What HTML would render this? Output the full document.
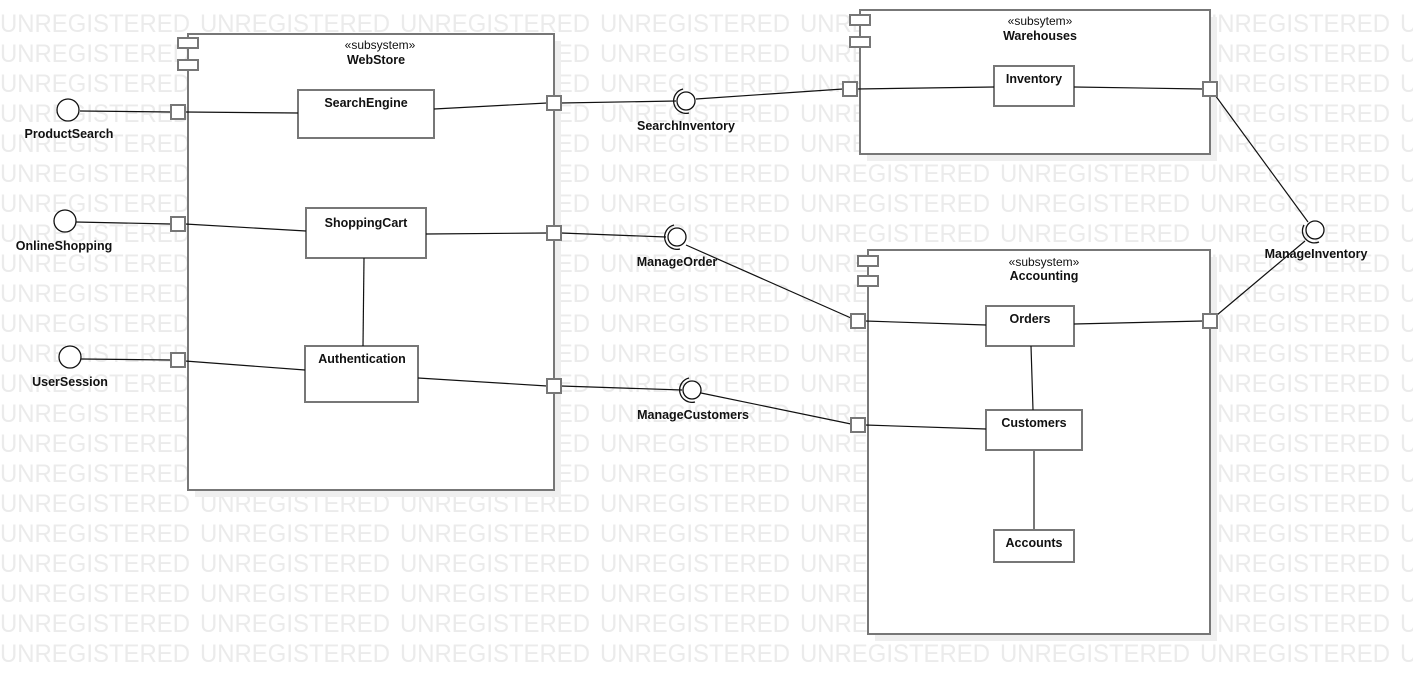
<!DOCTYPE html>
<html><head><meta charset="utf-8"><style>
html,body{margin:0;padding:0;background:#fff;}
svg{display:block;}
text{font-family:"Liberation Sans",Arial,sans-serif;}
</style></head><body>
<svg width="1413" height="674" viewBox="0 0 1413 674" xmlns="http://www.w3.org/2000/svg">
<g id="wm" fill="#ebebeb" font-size="25"></g>

<g fill="#efefef">
<rect x="195" y="41" width="366" height="456"/>
<rect x="867" y="17" width="350" height="144"/>
<rect x="875" y="257" width="342" height="384"/>
<rect x="305" y="97" width="136" height="48"/>
<rect x="313" y="215" width="120" height="50"/>
<rect x="312" y="353" width="113" height="56"/>
<rect x="1001" y="73" width="80" height="40"/>
<rect x="993" y="313" width="88" height="40"/>
<rect x="993" y="417" width="96" height="40"/>
<rect x="1001" y="537" width="80" height="32"/>
</g>

<g fill="#fff" stroke="#777" stroke-width="2">
<rect x="188" y="34" width="366" height="456"/>
<rect x="860" y="10" width="350" height="144"/>
<rect x="868" y="250" width="342" height="384"/>
<rect x="178" y="38" width="20" height="10"/>
<rect x="178" y="60" width="20" height="10"/>
<rect x="850" y="15" width="20" height="10"/>
<rect x="850" y="37" width="20" height="10"/>
<rect x="858" y="256" width="20" height="10"/>
<rect x="858" y="276" width="20" height="10"/>
<rect x="298" y="90" width="136" height="48"/>
<rect x="306" y="208" width="120" height="50"/>
<rect x="305" y="346" width="113" height="56"/>
<rect x="994" y="66" width="80" height="40"/>
<rect x="986" y="306" width="88" height="40"/>
<rect x="986" y="410" width="96" height="40"/>
<rect x="994" y="530" width="80" height="32"/>
</g>

<g stroke="#111" stroke-width="1.2" fill="none">
<line x1="80" y1="111" x2="171" y2="112"/>
<line x1="185" y1="112" x2="298" y2="113"/>
<line x1="434" y1="109" x2="547" y2="103"/>
<line x1="561" y1="103" x2="676" y2="101"/>
<line x1="696" y1="99" x2="843" y2="89"/>
<line x1="857" y1="89" x2="994" y2="87"/>
<line x1="1074" y1="87" x2="1203" y2="89"/>
<line x1="1215" y1="95" x2="1308" y2="222"/>
<line x1="76" y1="222" x2="171" y2="224"/>
<line x1="185" y1="224" x2="306" y2="231"/>
<line x1="426" y1="234" x2="547" y2="233"/>
<line x1="561" y1="233" x2="666" y2="237"/>
<line x1="686" y1="245" x2="851" y2="318"/>
<line x1="865" y1="321" x2="986" y2="325"/>
<line x1="1074" y1="324" x2="1203" y2="321"/>
<line x1="1217" y1="315" x2="1305" y2="241"/>
<line x1="364" y1="258" x2="363" y2="346"/>
<line x1="81" y1="359" x2="171" y2="360"/>
<line x1="185" y1="361" x2="305" y2="370"/>
<line x1="418" y1="378" x2="547" y2="386"/>
<line x1="561" y1="386" x2="682" y2="390"/>
<line x1="701" y1="393" x2="851" y2="424"/>
<line x1="865" y1="425" x2="986" y2="429"/>
<line x1="1031" y1="346" x2="1033" y2="410"/>
</g>
<line x1="1034" y1="450" x2="1034" y2="530" stroke="#777" stroke-width="2"/>

<g fill="#fff" stroke="#777" stroke-width="2">
<rect x="171" y="105" width="14" height="14"/>
<rect x="171" y="217" width="14" height="14"/>
<rect x="171" y="353" width="14" height="14"/>
<rect x="547" y="96" width="14" height="14"/>
<rect x="547" y="226" width="14" height="14"/>
<rect x="547" y="379" width="14" height="14"/>
<rect x="843" y="82" width="14" height="14"/>
<rect x="1203" y="82" width="14" height="14"/>
<rect x="851" y="314" width="14" height="14"/>
<rect x="851" y="418" width="14" height="14"/>
<rect x="1203" y="314" width="14" height="14"/>
</g>

<g fill="#fff" stroke="#111" stroke-width="1.3">
<circle cx="68" cy="110" r="11"/>
<circle cx="65" cy="221" r="11"/>
<circle cx="70" cy="357" r="11"/>
<circle cx="686" cy="101" r="9"/>
<circle cx="677" cy="237" r="9"/>
<circle cx="692" cy="390" r="9"/>
<circle cx="1315" cy="230" r="9"/>
</g>
<g fill="none" stroke="#111" stroke-width="1.3">
<path d="M683 89 A12 12 0 0 0 689 113"/>
<path d="M674 225 A12 12 0 0 0 680 249"/>
<path d="M689 378 A12 12 0 0 0 695 402"/>
<path d="M1304 225 A12 12 0 0 0 1319 242"/>
</g>

<g font-size="12.5" fill="#111" text-anchor="middle" font-weight="bold">
<text x="380" y="49" font-size="12" font-weight="normal">«subsystem»</text>
<text x="376" y="64">WebStore</text>
<text x="1040" y="25" font-size="12" font-weight="normal">«subsytem»</text>
<text x="1040" y="40">Warehouses</text>
<text x="1044" y="266" font-size="12" font-weight="normal">«subsystem»</text>
<text x="1044" y="280">Accounting</text>
<text x="366" y="107">SearchEngine</text>
<text x="366" y="227">ShoppingCart</text>
<text x="362" y="363">Authentication</text>
<text x="1034" y="83">Inventory</text>
<text x="1030" y="323">Orders</text>
<text x="1034" y="427">Customers</text>
<text x="1034" y="547">Accounts</text>
<text x="69" y="138">ProductSearch</text>
<text x="64" y="250">OnlineShopping</text>
<text x="70" y="386">UserSession</text>
<text x="686" y="130">SearchInventory</text>
<text x="677" y="266">ManageOrder</text>
<text x="693" y="419">ManageCustomers</text>
<text x="1316" y="258">ManageInventory</text>
</g>
</svg>
<script>
(function(){
var ns='http://www.w3.org/2000/svg';
var g=document.getElementById('wm');
for(var r=0;r<22;r++){for(var c=0;c<8;c++){var t=document.createElementNS(ns,'text');
t.setAttribute('x',c*200);t.setAttribute('y',32+r*30);t.setAttribute('textLength','190');
t.setAttribute('lengthAdjust','spacingAndGlyphs');t.textContent='UNREGISTERED';g.appendChild(t);}}
})();
</script>
</body></html>
